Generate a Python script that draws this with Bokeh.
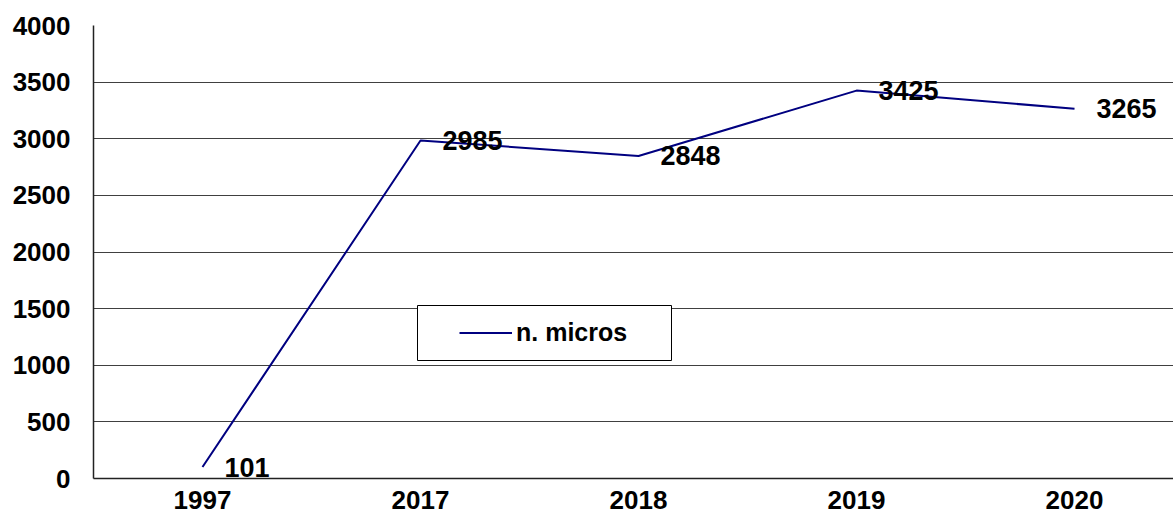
from bokeh.plotting import figure
from bokeh.models import Range1d, FixedTicker, Legend, LegendItem, ColumnDataSource, LabelSet, BoxAnnotation
from bokeh.core.properties import value
from bokeh.embed import file_html
from bokeh.resources import INLINE

years = ["1997", "2017", "2018", "2019", "2020"]
micros = [101, 2985, 2848, 3425, 3265]
series_name = "n. micros"
y_ticks = [0, 500, 1000, 1500, 2000, 2500, 3000, 3500, 4000]

FONT = "Liberation Sans"
idx = list(range(len(years)))

src = ColumnDataSource(dict(x=idx, y=micros, lbl=[str(v) for v in micros]))

p = figure(width=1173, height=520, output_backend="svg", toolbar_location=None,
           x_range=Range1d(-0.5, 4.454), y_range=Range1d(0, 4000),
           min_border_left=93, min_border_top=25, min_border_right=0, min_border_bottom=42)
p.outline_line_color = None
p.background_fill_color = "white"
p.border_fill_color = "white"

line = p.line("x", "y", source=src, line_color="#000080", line_width=2)

labels = LabelSet(x="x", y="y", text="lbl", source=src, x_offset=22, text_baseline="middle",
                  text_align="left", text_font=value(FONT), text_font_style="bold",
                  text_font_size="27px", text_color="black")
p.add_layout(labels)

p.xaxis.ticker = FixedTicker(ticks=idx)
p.xaxis.major_label_overrides = {i: y for i, y in enumerate(years)}
p.yaxis.ticker = FixedTicker(ticks=y_ticks)
for ax in (p.xaxis, p.yaxis):
    ax.major_tick_in = 0
    ax.major_tick_out = 0
    ax.minor_tick_in = 0
    ax.minor_tick_out = 0
    ax.axis_line_color = "#222222"
    ax.axis_line_width = 1.5
    ax.major_label_text_font = FONT
    ax.major_label_text_font_style = "bold"
    ax.major_label_text_font_size = "26px"
    ax.major_label_text_color = "black"
p.yaxis.major_label_standoff = 23
p.xaxis.major_label_standoff = 12

p.xgrid.grid_line_color = None
p.ygrid.grid_line_color = "#404040"
p.ygrid.grid_line_width = 1
p.ygrid.ticker = FixedTicker(ticks=y_ticks)

# legend frame (canvas pixels)
legend_box = BoxAnnotation(left=417, right=671, top=305, bottom=360,
                           left_units="canvas", right_units="canvas",
                           top_units="canvas", bottom_units="canvas",
                           fill_color="white", fill_alpha=1.0,
                           line_color="black", line_width=1, line_alpha=1.0)
p.add_layout(legend_box)

legend = Legend(items=[LegendItem(label=series_name, renderers=[line])],
                location=(366, 131), padding=13, spacing=0, margin=0,
                glyph_width=53, glyph_height=29, label_height=29,
                label_standoff=4, label_text_font=FONT, label_text_font_style="bold",
                label_text_font_size="25px", label_text_color="black",
                border_line_color=None, background_fill_alpha=0.0)
p.add_layout(legend, "center")

open("out.html", "w").write(file_html(p, INLINE))
